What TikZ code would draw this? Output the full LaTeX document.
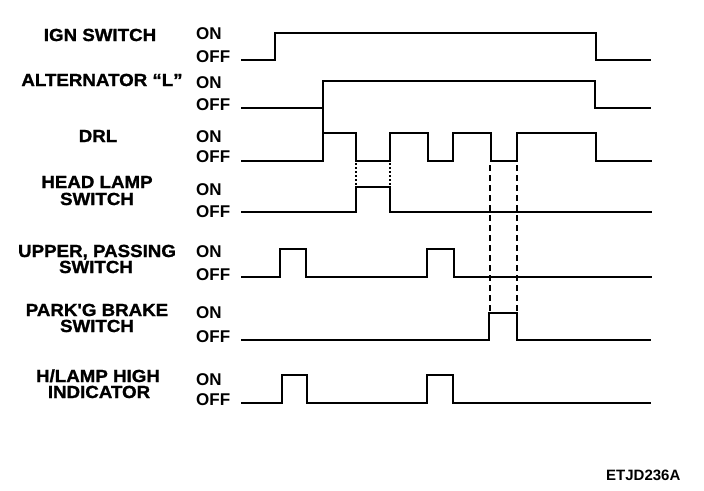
\documentclass[tikz,border=0pt]{standalone}
\usepackage{fontspec}
\setmainfont{Liberation Sans}
\newfontfamily\labheavy{Liberation Sans}[FakeStretch=1.07,BoldFeatures={FakeBold=1.2}]
\begin{document}
\begin{tikzpicture}[x=1pt,y=-1pt,
  sig/.style={line width=2.3pt, line join=miter},
  dotl/.style={line width=1.2pt, dash pattern=on 2pt off 2pt},
  dashl/.style={line width=2pt, dash pattern=on 6pt off 4pt},
  lab/.style={font=\labheavy\bfseries\fontsize{17.5}{17.5}\selectfont, inner sep=0pt, anchor=base},
  st/.style={font=\bfseries\fontsize{17}{17}\selectfont, inner sep=0pt, anchor=base west},
  code/.style={font=\bfseries\fontsize{15}{15}\selectfont, inner sep=0pt, anchor=base west}]
\useasboundingbox (0,0) rectangle (704,490);
\fill[white] (0,0) rectangle (704,490);

% labels
\node[lab] (l1) at (100,41) {IGN SWITCH};
\node[lab] (l2) at (102,86) {ALTERNATOR “L”};
\node[lab] (l3) at (98,142) {DRL};
\node[lab] (l4a) at (97,188) {HEAD LAMP};
\node[lab] (l4b) at (97,205) {SWITCH};
\node[lab] (l5a) at (97,257) {UPPER, PASSING};
\node[lab] (l5b) at (96,273) {SWITCH};
\node[lab] (l6a) at (97,316) {PARK'G BRAKE};
\node[lab] (l6b) at (97,332) {SWITCH};
\node[lab] (l7a) at (98,382) {H/LAMP HIGH};
\node[lab] (l7b) at (99,398) {INDICATOR};

% states
\node[st] (on1) at (196,39) {ON};
\node[st] (off1) at (196,62) {OFF};
\node[st] (on2) at (196,88) {ON};
\node[st] (off2) at (196,110) {OFF};
\node[st] (on3) at (196,142) {ON};
\node[st] (off3) at (196,162) {OFF};
\node[st] (on4) at (196,195) {ON};
\node[st] (off4) at (196,217) {OFF};
\node[st] (on5) at (196,257) {ON};
\node[st] (off5) at (196,280) {OFF};
\node[st] (on6) at (196,318) {ON};
\node[st] (off6) at (196,342) {OFF};
\node[st] (on7) at (196,385) {ON};
\node[st] (off7) at (196,405) {OFF};

\node[code] (ref) at (606,480) {ETJD236A};

% signals
\draw[sig] (241,60) -- (275,60) -- (275,33) -- (596,33) -- (596,60) -- (651,60);
\draw[sig] (241,108) -- (323,108) -- (323,81) -- (595,81) -- (595,108) -- (651,108);
\draw[sig] (241,161) -- (323,161) -- (323,133) -- (356,133) -- (356,161) -- (390,161) -- (390,133) -- (428,133) -- (428,161) -- (453,161) -- (453,133) -- (491,133) -- (491,161) -- (517,161) -- (517,133) -- (596,133) -- (596,161) -- (652,161);
\draw[sig] (323,108) -- (323,133);
\draw[sig] (241,212) -- (356,212) -- (356,187) -- (390,187) -- (390,212) -- (652,212);
\draw[sig] (241,277) -- (280,277) -- (280,249) -- (306,249) -- (306,277) -- (427,277) -- (427,249) -- (454,249) -- (454,277) -- (652,277);
\draw[sig] (241,340) -- (489,340) -- (489,313) -- (517,313) -- (517,340) -- (651,340);
\draw[sig] (241,403) -- (282,403) -- (282,375) -- (307,375) -- (307,403) -- (427,403) -- (427,375) -- (453,375) -- (453,403) -- (651,403);

% timing guides
\draw[dotl] (356,163) -- (356,187);
\draw[dotl] (390,163) -- (390,187);
\draw[dashl] (490,165) -- (490,312);
\draw[dashl] (517,165) -- (517,312);
\end{tikzpicture}
\end{document}
